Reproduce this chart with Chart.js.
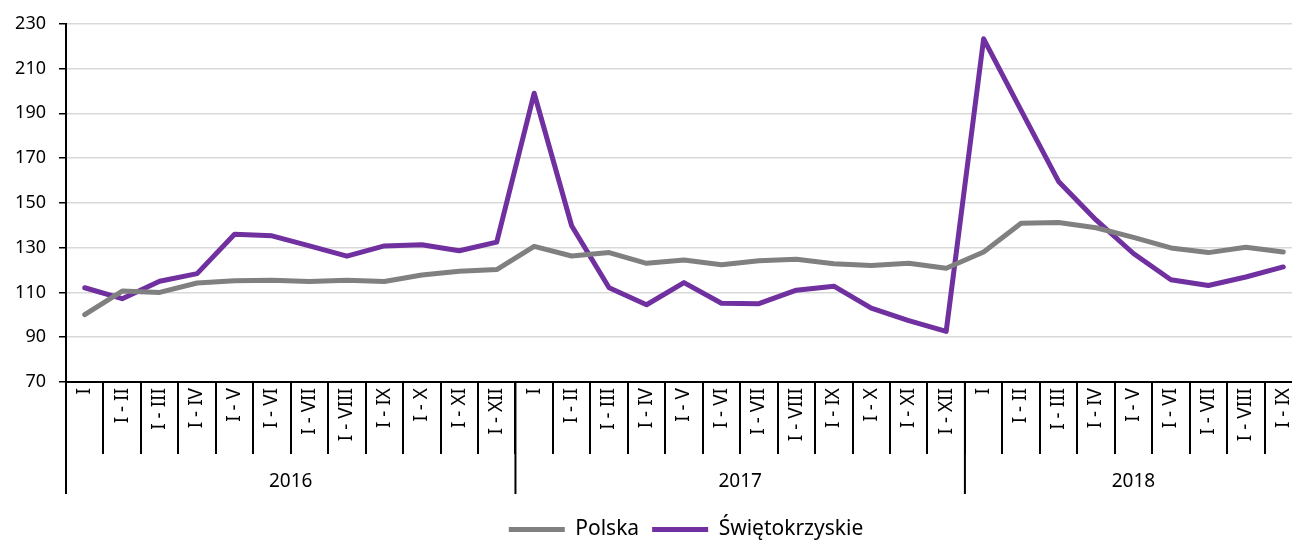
<!DOCTYPE html>
<html>
<head>
<meta charset="utf-8">
<script src="https://cdn.jsdelivr.net/npm/chart.js@4"></script>
<style>
html,body{margin:0;padding:0;background:#fff;overflow:hidden;width:1292px;height:540px;}
#wrap{width:1292px;height:540px;overflow:hidden;}
canvas{display:block;}
</style>
</head>
<body>
<div id="wrap"><canvas id="c" width="1302" height="540"></canvas></div>
<script>
const monthLabels = ['I','I - II','I - III','I - IV','I - V','I - VI','I - VII','I - VIII','I - IX','I - X','I - XI','I - XII'];
const years = ['2016','2017','2018'];
const monthsPerYear = [12, 12, 9];
const polska = [100.1, 110.6, 110.0, 114.2, 115.2, 115.5, 114.9, 115.4, 114.9, 117.8, 119.5, 120.2,
                130.6, 126.3, 127.8, 123.0, 124.5, 122.4, 124.2, 124.8, 122.8, 122.0, 123.0, 120.8,
                128.1, 140.9, 141.2, 138.9, 134.6, 129.9, 127.8, 130.2, 128.1];
const swietokrzyskie = [112.1, 107.2, 115.0, 118.4, 136.0, 135.3, 130.8, 126.2, 130.8, 131.3, 128.6, 132.5,
                199.0, 139.8, 112.1, 104.5, 114.4, 105.2, 105.0, 111.0, 112.8, 103.0, 97.4, 92.6,
                223.3, 191.3, 159.6, 142.4, 127.4, 115.7, 113.1, 116.9, 121.4];
const seriesNames = ['Polska', 'Świętokrzyskie'];
const yTicks = {min: 70, max: 230, step: 20};

const labels = [];
monthsPerYear.forEach(n => { for (let i = 0; i < n; i++) labels.push(monthLabels[i]); });

const FONT = "'Noto Sans', sans-serif";
Chart.defaults.font.family = FONT;
Chart.defaults.color = '#000';

const yearPlugin = {
  id: 'yearGroups',
  afterDraw(chart) {
    const xs = chart.scales.x;
    const ctx = chart.ctx;
    const step = xs.getPixelForValue(1) - xs.getPixelForValue(0);
    let idx = 0;
    ctx.save();
    ctx.strokeStyle = '#000';
    ctx.lineWidth = 2;
    ctx.fillStyle = '#000';
    ctx.font = '19px ' + FONT;
    ctx.textAlign = 'center';
    ctx.textBaseline = 'middle';
    years.forEach((y, i) => {
      const n = monthsPerYear[i];
      const left = xs.getPixelForValue(idx) - step / 2;
      const right = xs.getPixelForValue(idx + n - 1) + step / 2;
      ctx.beginPath();
      ctx.moveTo(left, xs.top);
      ctx.lineTo(left, xs.top + 112);
      ctx.stroke();
      ctx.fillText(y, (left + right) / 2, xs.top + 100);
      idx += n;
    });
    ctx.restore();
  }
};

const legendShift = {
  id: 'legendShift',
  afterLayout(chart) {
    const lg = chart.legend;
    if (!lg) return;
    const dx = 35, dy = 10;
    lg.left += dx; lg.right += dx;
    lg.top += dy; lg.bottom += dy;
  }
};

new Chart(document.getElementById('c'), {
  type: 'line',
  data: {
    labels: labels,
    datasets: [
      {label: seriesNames[0], data: polska, borderColor: '#808080', backgroundColor: '#808080',
       borderWidth: 5, pointRadius: 0, tension: 0, borderCapStyle: 'round', borderJoinStyle: 'round'},
      {label: seriesNames[1], data: swietokrzyskie, borderColor: '#7030a0', backgroundColor: '#7030a0',
       borderWidth: 5, pointRadius: 0, tension: 0, borderCapStyle: 'round', borderJoinStyle: 'round'}
    ]
  },
  options: {
    responsive: false,
    animation: false,
    layout: {padding: {top: 16, left: 0, right: 0, bottom: 0}},
    plugins: {
      tooltip: {enabled: false},
      legend: {
        position: 'bottom',
        labels: {
          usePointStyle: true, pointStyle: 'line', pointStyleWidth: 56,
          color: '#000', font: {family: FONT, size: 21}, padding: 13
        }
      }
    },
    scales: {
      x: {
        type: 'category',
        offset: true,
        grid: {display: true, drawOnChartArea: false, drawTicks: true, tickLength: 72,
               offset: true, color: '#000', lineWidth: 2},
        border: {display: true, color: '#000', width: 2},
        ticks: {autoSkip: false, minRotation: 90, maxRotation: 90, padding: -66,
                color: '#000', font: {family: FONT, size: 19}},
        afterFit(scale) { scale.height = 114; }
      },
      y: {
        min: yTicks.min, max: yTicks.max,
        ticks: {stepSize: yTicks.step, color: '#000', padding: 13, font: {family: FONT, size: 18}},
        grid: {color: '#d9d9d9', lineWidth: 1.5, tickColor: '#000', tickLength: 7},
        border: {display: true, color: '#000', width: 2},
        afterFit(scale) { scale.width = 66; }
      }
    }
  },
  plugins: [yearPlugin, legendShift]
});
</script>
</body>
</html>
